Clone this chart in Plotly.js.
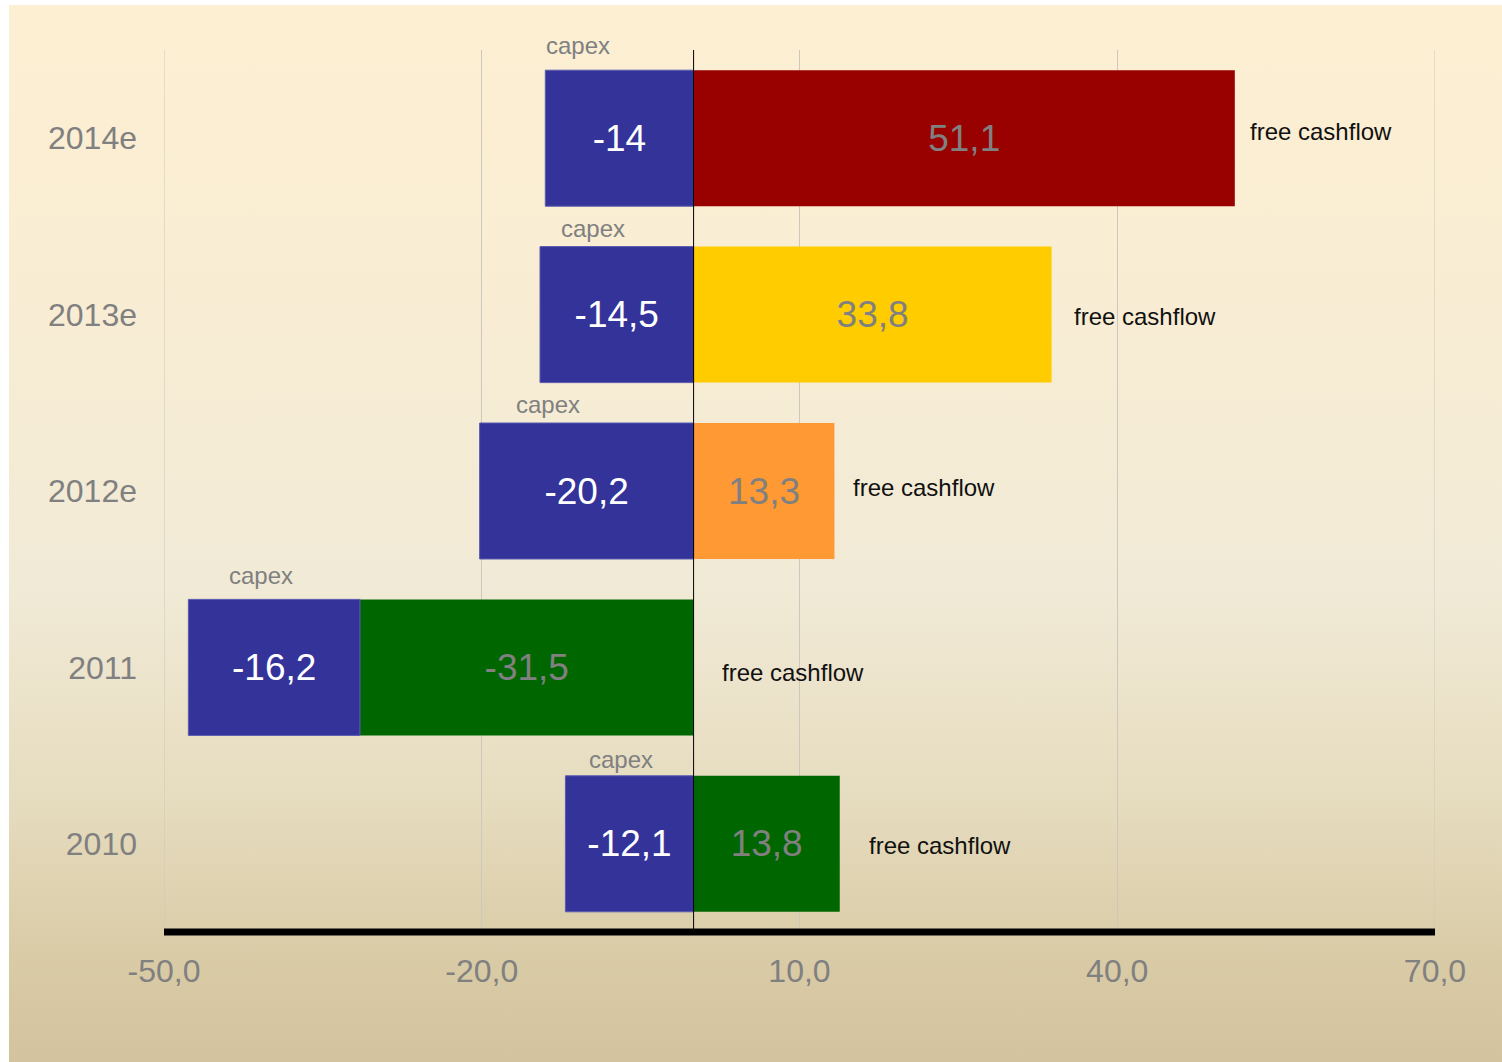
<!DOCTYPE html>
<html>
<head>
<meta charset="utf-8">
<script src="https://cdn.plot.ly/plotly-3.0.1.min.js"></script>
<style>
  html, body { margin: 0; padding: 0; background: #ffffff; width: 1502px; height: 1062px; overflow: hidden; }
  #bg { position: absolute; left: 9px; top: 5px; width: 1493px; height: 1057px;
        background: linear-gradient(to bottom, #FDEFD2 0%, #F8EDD4 30%, #F1EAD6 55%, #E6DCBF 75%, #D9CBA6 90%, #D3C49F 100%); }
  #chart { position: absolute; left: 0; top: 0; width: 1502px; height: 1062px; }
</style>
</head>
<body>
<div id="bg"></div>
<div id="chart"></div>
<script>
// ---- data ----
const years = ['2010', '2011', '2012e', '2013e', '2014e'];
const capex = [-12.1, -16.2, -20.2, -14.5, -14];
const freeCashflow = [13.8, -31.5, 13.3, 33.8, 51.1];
const xTickValues = [-50, -20, 10, 40, 70];
const xTickLabels = ['-50,0', '-20,0', '10,0', '40,0', '70,0'];
const capexLabel = 'capex';
const fcfLabel = 'free cashflow';

// ---- styles / label placement ----
const capexColor = '#333399';
const fcfColors = ['#006600', '#006600', '#FF9933', '#FFCC00', '#990000'];
const capexLabelX = [-6.9, -40.8, -13.7, -9.5, -10.9];
const capexLabelDY = [0.48, 0.52, 0.49, 0.49, 0.525];
const fcfLabelX = [16.4, 2.5, 14.9, 35.7, 52.3];
const fcfLabelDY = [-0.01, -0.03, 0.02, -0.01, 0.04];

const FONT = 'Liberation Sans, Arial, Helvetica, sans-serif';
const fmt = v => String(v).replace('.', ',');
const nCat = years.length;
const toPaper = v => (v + 0.5) / nCat;

const traces = [
  {
    type: 'bar', orientation: 'h', name: fcfLabel,
    y: years, x: freeCashflow,
    marker: { color: fcfColors, line: { width: 0 } },
    text: freeCashflow.map(fmt), textposition: 'inside', insidetextanchor: 'middle',
    textangle: 0, constraintext: 'none',
    textfont: { family: FONT, size: 37, color: '#808080' },
    hoverinfo: 'skip'
  },
  {
    type: 'bar', orientation: 'h', name: capexLabel,
    y: years, x: capex,
    marker: { color: capexColor, line: { width: 1, color: '#5a5ab0' } },
    text: capex.map(fmt), textposition: 'inside', insidetextanchor: 'middle',
    textangle: 0, constraintext: 'none',
    textfont: { family: FONT, size: 37, color: '#ffffff' },
    hoverinfo: 'skip'
  }
];

const annotations = [];
years.forEach((yr, i) => {
  annotations.push({
    x: capexLabelX[i], y: toPaper(i + capexLabelDY[i]), xref: 'x', yref: 'paper',
    text: capexLabel, showarrow: false, xanchor: 'center', yanchor: 'middle',
    font: { family: FONT, size: 24, color: '#808080' }
  });
  annotations.push({
    x: fcfLabelX[i], y: toPaper(i + fcfLabelDY[i]), xref: 'x', yref: 'paper',
    text: fcfLabel, showarrow: false, xanchor: 'left', yanchor: 'middle',
    font: { family: FONT, size: 24, color: '#111111' }
  });
});

const gridColor = '#ccc8be';
const layout = {
  width: 1502, height: 1062,
  margin: { l: 164, r: 67, t: 50, b: 130 },
  paper_bgcolor: 'rgba(0,0,0,0)', plot_bgcolor: 'rgba(0,0,0,0)',
  barmode: 'relative',
  bargap: 0.229,
  showlegend: false,
  font: { family: FONT },
  xaxis: {
    range: [-50, 70], tickvals: xTickValues, ticktext: xTickLabels,
    showgrid: true, gridcolor: gridColor, gridwidth: 1,
    zeroline: false, showline: false,
    ticks: '', ticklabelstandoff: 17,
    tickfont: { family: FONT, size: 32, color: '#808080' },
    fixedrange: true
  },
  yaxis: {
    type: 'category', categoryorder: 'array', categoryarray: years,
    range: [-0.5, 4.5],
    showgrid: false, zeroline: false, showline: false,
    ticks: '', ticklabelstandoff: 26,
    tickfont: { family: FONT, size: 32, color: '#808080' },
    fixedrange: true
  },
  shapes: [
    { type: 'line', xref: 'x', yref: 'paper', x0: -50, x1: -50, y0: 0, y1: 1,
      line: { color: gridColor, width: 1 }, layer: 'below' },
    { type: 'line', xref: 'x', yref: 'paper', x0: 70, x1: 70, y0: 0, y1: 1,
      line: { color: gridColor, width: 1 }, layer: 'below' },
    { type: 'line', xref: 'x', yref: 'paper', x0: 0, x1: 0, y0: 0, y1: 1,
      line: { color: '#000000', width: 1 }, layer: 'above' },
    { type: 'line', xref: 'x', yref: 'paper', x0: -50, x1: 70, y0: 0, y1: 0,
      line: { color: '#000000', width: 7 }, layer: 'above' }
  ],
  annotations: annotations
};

Plotly.newPlot('chart', traces, layout, { displayModeBar: false, staticPlot: true });
</script>
</body>
</html>
